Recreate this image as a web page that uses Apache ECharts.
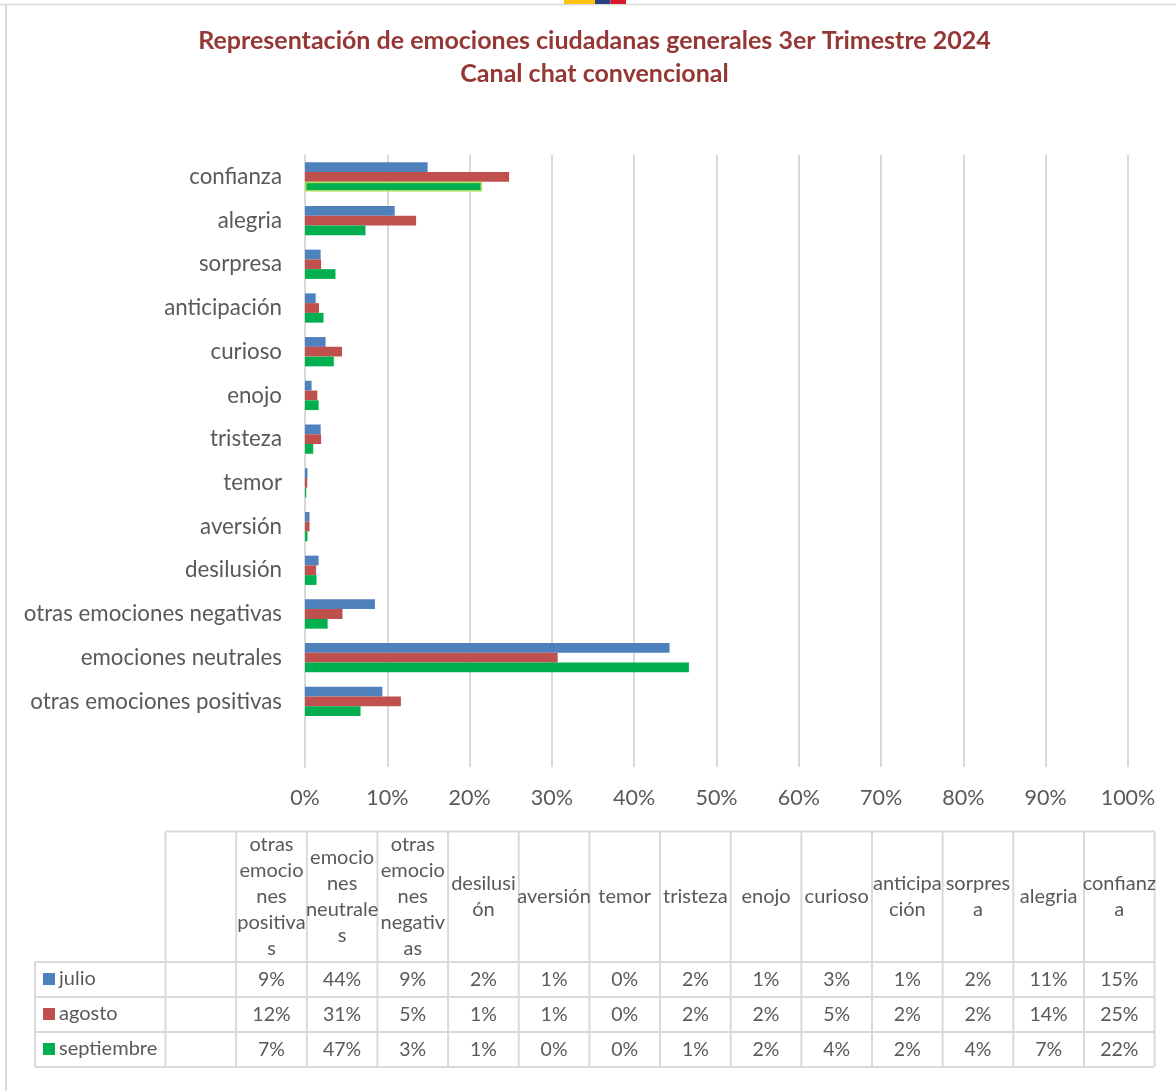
<!DOCTYPE html>
<html><head><meta charset="utf-8">
<script src="https://cdn.jsdelivr.net/npm/echarts@6/dist/echarts.min.js"></script>
<style>html,body{margin:0;padding:0;background:#fff}#c{width:1176px;height:1091px}</style>
</head><body><div id="c"></div>
<script>
const titleLines = ['Representación de emociones ciudadanas generales 3er Trimestre 2024','Canal chat convencional'];
const categories = ['confianza','alegria','sorpresa','anticipación','curioso','enojo','tristeza','temor','aversión','desilusión','otras emociones negativas','emociones neutrales','otras emociones positivas',''];
const julio = [14.9,10.9,1.9,1.3,2.5,0.8,1.9,0.3,0.55,1.65,8.5,44.3,9.4,null];
const agosto = [24.8,13.5,1.96,1.7,4.5,1.5,1.96,0.27,0.55,1.35,4.55,30.7,11.65,null];
const septiembre = [21.5,7.35,3.7,2.25,3.5,1.65,1.0,0.15,0.3,1.4,2.75,46.65,6.75,null];
const tableHeaders = ['','otras\nemocio\nnes\npositiva\ns','emocio\nnes\nneutrale\ns','otras\nemocio\nnes\nnegativ\nas','desilusi\nón','aversión','temor','tristeza','enojo','curioso','anticipa\nción','sorpres\na','alegria','confianz\na'];
const tableJulio = ['','9%','44%','9%','2%','1%','0%','2%','1%','3%','1%','2%','11%','15%'];
const tableAgosto = ['','12%','31%','5%','1%','1%','0%','2%','2%','5%','2%','2%','14%','25%'];
const tableSeptiembre = ['','7%','47%','3%','1%','0%','0%','1%','2%','4%','2%','4%','7%','22%'];
const seriesNames = ['julio','agosto','septiembre'];
const seriesColors = ['#4F81BD','#C0504D','#00B050'];

const FONT = 'Lato, Carlito, sans-serif';
const TXT = '#595959', LINE = '#D9D9D9';

const g = [];
function line(x1,y1,x2,y2,color,w){g.push({type:'line',silent:true,shape:{x1,y1,x2,y2},style:{stroke:color||LINE,lineWidth:w||2}});}
function text(t,x,y,size,opt){g.push({type:'text',silent:true,x,y,style:Object.assign({text:t,fontSize:size,fontFamily:FONT,fill:TXT,align:'center',verticalAlign:'middle',lineHeight:26},opt||{})});}
// frame + strip
line(0,4.5,1176,4.5,LINE,1.5);
line(6,4,6,1091,LINE,2);
g.push({type:'rect',silent:true,shape:{x:564,y:0,width:31,height:4},style:{fill:'#FFC20E'}});
g.push({type:'rect',silent:true,shape:{x:595,y:0,width:15.5,height:4},style:{fill:'#2B3F87'}});
g.push({type:'rect',silent:true,shape:{x:610.5,y:0,width:15.5,height:4},style:{fill:'#D7182A'}});
// title
text(titleLines[0],594.5,41,25,{fontWeight:'bold',fill:'#953735'});
text(titleLines[1],594.5,74,25,{fontWeight:'bold',fill:'#953735'});
// table
const colX=[165.5];for(let i=1;i<=14;i++)colX.push(165.5+i*70.65);
const rowY=[831.5,962,997,1032,1067];
const L=35;
line(colX[0],rowY[0],colX[14],rowY[0]);
line(L,rowY[1],colX[14],rowY[1]);
line(L,rowY[2],colX[14],rowY[2]);
line(L,rowY[3],colX[14],rowY[3]);
line(L,rowY[4],colX[14],rowY[4]);
line(L,rowY[1],L,rowY[4]);
colX.forEach(x=>line(x,rowY[0],x,rowY[4]));
tableHeaders.forEach((h,i)=>{ if(h) text(h,(colX[i]+colX[i+1])/2,(rowY[0]+rowY[1])/2-.5,20); });
[tableJulio,tableAgosto,tableSeptiembre].forEach((row,r)=>{
  const cy=(rowY[r+1]+rowY[r+2])/2;
  g.push({type:'rect',silent:true,shape:{x:43,y:cy-6.5,width:12,height:12},style:{fill:seriesColors[r]}});
  text(seriesNames[r],59,cy-.5,20,{align:'left'});
  row.forEach((v,i)=>{ if(v) text(v,(colX[i]+colX[i+1])/2,cy+.5,19.5); });
});

const chart = echarts.init(document.getElementById('c'),null,{renderer:'canvas'});
function bar(name,data,color,extra){
  return {name,type:'bar',data,barGap:0,barCategoryGap:'33%',silent:true,itemStyle:{color},...(extra||{})};
}
const septData = septiembre.map((v,i)=> i===0 ? {value:v,itemStyle:{color:seriesColors[2],borderColor:'#A6E05A',borderWidth:1.5}} : v);
chart.setOption({
  animation:false,
  backgroundColor:'#fff',
  grid:{left:305,right:48,top:155,height:612,containLabel:false},
  xAxis:{type:'value',min:0,max:100,interval:10,position:'bottom',
    axisLine:{show:false},axisTick:{show:false},
    axisLabel:{formatter:'{value}%',fontSize:21.5,color:TXT,fontFamily:FONT,margin:20},
    splitLine:{show:true,lineStyle:{color:LINE,width:2}}},
  yAxis:{type:'category',inverse:true,data:categories,
    axisLine:{show:true,lineStyle:{color:LINE,width:2}},axisTick:{show:false},
    axisLabel:{fontSize:22.3,color:TXT,fontFamily:FONT,margin:23,interval:0,padding:[1,0,0,0]}},
  series:[bar(seriesNames[0],julio,seriesColors[0]),bar(seriesNames[1],agosto,seriesColors[1]),bar(seriesNames[2],septData,seriesColors[2])],
  graphic:{elements:g}
});
</script></body></html>
